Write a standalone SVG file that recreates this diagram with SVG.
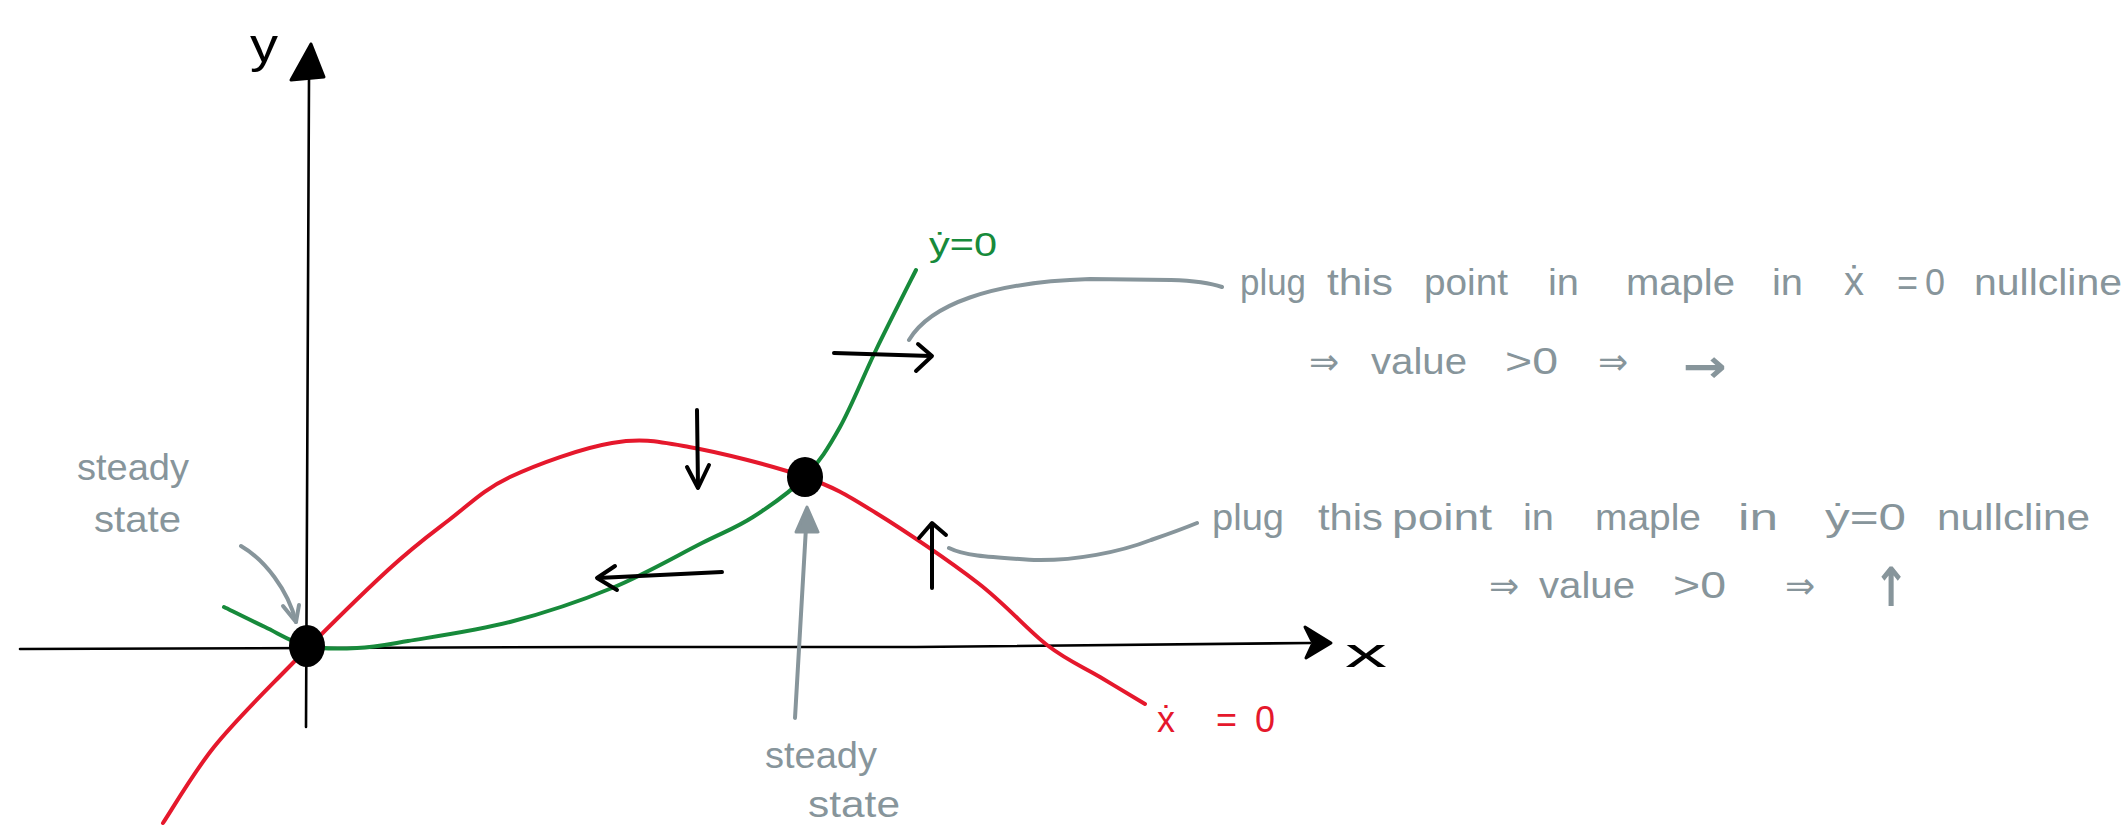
<svg xmlns="http://www.w3.org/2000/svg" width="2126" height="827" viewBox="0 0 2126 827">
<style>
  .ax { fill: none; stroke: #000; stroke-width: 2.6; stroke-linecap: round; stroke-linejoin: round; }
  .blk { fill: none; stroke: #000; stroke-width: 4; stroke-linecap: round; stroke-linejoin: round; }
  .red { fill: none; stroke: #e5182c; stroke-width: 4; stroke-linecap: round; stroke-linejoin: round; }
  .grn { fill: none; stroke: #178a3b; stroke-width: 4; stroke-linecap: round; stroke-linejoin: round; }
  .gry { fill: none; stroke: #87959b; stroke-width: 4; stroke-linecap: round; stroke-linejoin: round; }
  .t { font-family: "Liberation Sans Narrow", "Liberation Sans", "DejaVu Sans", sans-serif; fill: #87959b; font-size: 36px; }
  .sym { font-family: "DejaVu Sans", sans-serif; fill: #87959b; }
  .tb { font-family: "Liberation Sans", "DejaVu Sans", sans-serif; fill: #000; }
  .tr { font-family: "Liberation Sans", "DejaVu Sans", sans-serif; fill: #e5182c; font-size: 36px; }
  .tg { font-family: "Liberation Sans", "DejaVu Sans", sans-serif; fill: #178a3b; font-size: 34px; }
</style>
<rect width="2126" height="827" fill="#fff"/>

<g id="axes">
  <line class="ax" x1="309" y1="78" x2="306" y2="727"/>
  <polygon points="311,44 291,80 324,77" fill="#000" stroke="#000" stroke-width="3" stroke-linejoin="round"/>
  <polyline class="ax" points="20,649 600,647 916,647 1310,643"/>
  <polygon points="1305,627 1331,643 1306,658 1313,643" fill="#000" stroke="#000" stroke-width="3" stroke-linejoin="round"/>
  <text class="tb" x="250" y="62" font-size="48" textLength="28" lengthAdjust="spacingAndGlyphs">y</text>
  <text class="tb" x="1345" y="667" font-size="40" textLength="42" lengthAdjust="spacingAndGlyphs">x</text>
</g>

<g id="x-nullcline">
  <path class="red" d="M163,823 C171.5,810.3 193.5,772.5 214,747 C234.5,721.5 257,699.5 286,670 C315,640.5 360.8,595 388,570 C415.2,545 428.7,535.5 449,520 C469.3,504.5 482.8,489.8 510,477 C537.2,464.2 582.2,448 612,443 C641.8,438 656.8,441.3 689,447 C721.2,452.7 773.8,466 805,477 C836.2,488 847.2,495.3 876,513 C904.8,530.7 949.5,561 978,583 C1006.5,605 1026.7,629.3 1047,645 C1067.3,660.7 1083.7,667.2 1100,677 C1116.3,686.8 1137.5,699.5 1145,704"/>
  <text class="tr" y="732"><tspan x="1157">ẋ</tspan><tspan x="1216">=</tspan><tspan x="1255">0</tspan></text>
</g>

<g id="y-nullcline">
  <path class="grn" d="M224,607 C230.8,610.3 251.2,620.5 265,627 C278.8,633.5 291.7,642.5 307,646 C322.3,649.5 340.2,648.8 357,648 C373.8,647.2 382.5,645.3 408,641 C433.5,636.7 476,630.8 510,622 C544,613.2 580,601.2 612,588 C644,574.8 678.5,554.8 702,543 C725.5,531.2 735.8,528 753,517 C770.2,506 790.5,492 805,477 C819.5,462 828.2,448.2 840,427 C851.8,405.8 863.3,376.2 876,350 C888.7,323.8 909.3,283.3 916,270"/>
  <text class="tg" x="929" y="256" textLength="68" lengthAdjust="spacingAndGlyphs">ẏ=0</text>
</g>

<g id="steady-state-origin">
  <ellipse cx="307" cy="646" rx="18" ry="21" fill="#000"/>
</g>
<g id="steady-state-2">
  <ellipse cx="805" cy="477" rx="18" ry="20" fill="#000"/>
</g>

<g id="flow-arrows">
  <line class="blk" x1="834" y1="353" x2="931" y2="356"/>
  <polyline class="blk" points="918,344 932,356 916,371"/>
  <line class="blk" x1="697" y1="410" x2="698" y2="487"/>
  <polyline class="blk" points="687,467 698,488 709,465"/>
  <line class="blk" x1="722" y1="572" x2="598" y2="578"/>
  <polyline class="blk" points="615,566 597,578 617,590"/>
  <line class="blk" x1="932" y1="588" x2="932" y2="524"/>
  <polyline class="blk" points="919,538 932,523 946,535"/>
</g>

<g id="connectors">
  <path class="gry" d="M241,546 C265,560 288,590 296,622"/>
  <polyline class="gry" points="283,606 296,622 299,605"/>
  <line class="gry" x1="795" y1="718" x2="807" y2="510"/>
  <polygon points="796,532 807,507 818,532" fill="#87959b" stroke="#87959b" stroke-width="3" stroke-linejoin="round"/>
  <path class="gry" d="M909,340 C930,305 990,282 1090,279 L1171,280 Q1205,281 1222,287"/>
  <path class="gry" d="M949,548 C965,556 990,557 1034,560 C1075,561 1120,552 1151,540 Q1180,530 1197,523"/>
</g>

<g id="label-steady-state-left">
  <text class="t" font-size="42" x="77" y="480" textLength="112" lengthAdjust="spacingAndGlyphs">steady</text>
  <text class="t" font-size="42" x="94" y="532" textLength="87" lengthAdjust="spacingAndGlyphs">state</text>
</g>

<g id="label-steady-state-bottom">
  <text class="t" font-size="42" x="765" y="768" textLength="112" lengthAdjust="spacingAndGlyphs">steady</text>
  <text class="t" font-size="42" x="808" y="817" textLength="92" lengthAdjust="spacingAndGlyphs">state</text>
</g>

<g id="note-x-nullcline">
  <text class="t" y="295">
    <tspan x="1240" textLength="66" lengthAdjust="spacingAndGlyphs">plug</tspan>
    <tspan x="1327" textLength="66" lengthAdjust="spacingAndGlyphs">this</tspan>
    <tspan x="1424" textLength="84" lengthAdjust="spacingAndGlyphs">point</tspan>
    <tspan x="1548" textLength="31" lengthAdjust="spacingAndGlyphs">in</tspan>
    <tspan x="1626" textLength="109" lengthAdjust="spacingAndGlyphs">maple</tspan>
    <tspan x="1772" textLength="31" lengthAdjust="spacingAndGlyphs">in</tspan>
    <tspan x="1844" font-size="40">ẋ</tspan>
    <tspan x="1897">=</tspan>
    <tspan x="1925">0</tspan>
    <tspan x="1974" textLength="148" lengthAdjust="spacingAndGlyphs">nullcline</tspan>
  </text>
  <text class="t" y="374">
    <tspan x="1309">⇒</tspan>
    <tspan x="1371" textLength="96" lengthAdjust="spacingAndGlyphs">value</tspan>
    <tspan x="1505" textLength="53" lengthAdjust="spacingAndGlyphs">&gt;0</tspan>
    <tspan x="1598">⇒</tspan>
  </text>
  <text class="sym" x="1683" y="382" font-size="46" font-weight="bold" textLength="44" lengthAdjust="spacingAndGlyphs">→</text>
</g>

<g id="note-y-nullcline">
  <text class="t" y="530">
    <tspan x="1212" textLength="72" lengthAdjust="spacingAndGlyphs">plug</tspan>
    <tspan x="1318" textLength="65" lengthAdjust="spacingAndGlyphs">this</tspan>
    <tspan x="1392" textLength="100" lengthAdjust="spacingAndGlyphs">point</tspan>
    <tspan x="1523" textLength="31" lengthAdjust="spacingAndGlyphs">in</tspan>
    <tspan x="1595" textLength="106" lengthAdjust="spacingAndGlyphs">maple</tspan>
    <tspan x="1738" textLength="40" lengthAdjust="spacingAndGlyphs">in</tspan>
    <tspan x="1825" textLength="81" lengthAdjust="spacingAndGlyphs">ẏ=0</tspan>
    <tspan x="1937" textLength="153" lengthAdjust="spacingAndGlyphs">nullcline</tspan>
  </text>
  <text class="t" y="598">
    <tspan x="1489">⇒</tspan>
    <tspan x="1539" textLength="96" lengthAdjust="spacingAndGlyphs">value</tspan>
    <tspan x="1673" textLength="53" lengthAdjust="spacingAndGlyphs">&gt;0</tspan>
    <tspan x="1785">⇒</tspan>
  </text>
  <text class="sym" x="1873" y="606" font-size="54" font-weight="bold" textLength="36" lengthAdjust="spacingAndGlyphs">↑</text>
</g>
</svg>
